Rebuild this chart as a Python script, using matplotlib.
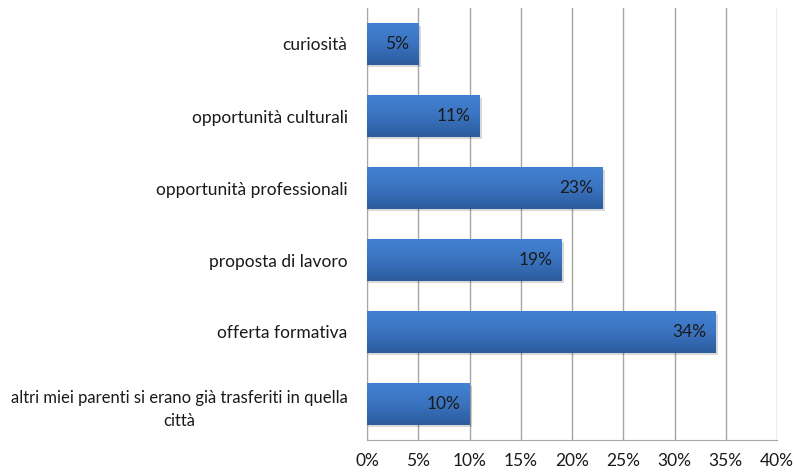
import matplotlib
matplotlib.use("Agg")
import matplotlib.pyplot as plt
import numpy as np
from matplotlib.colors import LinearSegmentedColormap
from matplotlib.ticker import FuncFormatter

categories = [
    "curiosità",
    "opportunità culturali",
    "opportunità professionali",
    "proposta di lavoro",
    "offerta formativa",
    "altri miei parenti si erano già trasferiti in quella\ncittà",
]
values = [5, 11, 23, 19, 34, 10]
xticks = [0, 5, 10, 15, 20, 25, 30, 35, 40]

plt.rcParams['font.family'] = ['Lato', 'DejaVu Sans']

fig = plt.figure(figsize=(7.95, 4.72), dpi=100)
ax = fig.add_axes([367/795, 1-440/472, (777-367)/795, (440-8)/472])

y = np.arange(len(categories))
bars = ax.barh(y, values, height=0.57, color="#3569b5", zorder=3)

cmap = LinearSegmentedColormap.from_list("g", ["#2b5c9c", "#3a73c0", "#4382d2"])
grad = np.linspace(0, 1, 256).reshape(-1, 1)
for b in bars:
    x0, y0 = b.get_x(), b.get_y()
    w, h = b.get_width(), b.get_height()
    # soft shadow
    ax.add_patch(plt.Rectangle((x0, y0 + 0.03), w + 0.25, h, color="#000000", alpha=0.15, zorder=2, lw=0))
    im = ax.imshow(grad, extent=(x0, x0 + w, y0, y0 + h), aspect="auto", cmap=cmap,
                   origin="upper", zorder=3.5, interpolation="bilinear")
    im.set_clip_path(b)

for yi, v in zip(y, values):
    ax.text(v - 0.9, yi, f"{v}%", ha="right", va="center", fontsize=12.5, color="#1a1a1a", zorder=5)

ax.set_xlim(0, 40)
ax.set_ylim(len(categories) - 0.5, -0.5)
ax.set_xticks(xticks)
ax.xaxis.set_major_formatter(FuncFormatter(lambda v, p: f"{int(v)}%"))
ax.set_yticks(y)
ax.set_yticklabels(categories)
ax.tick_params(axis="y", length=0, pad=14, labelsize=12.5, labelcolor="#1a1a1a")
ax.tick_params(axis="x", length=0, pad=9, labelsize=12.5, labelcolor="#1a1a1a")
for t in ax.get_yticklabels():
    t.set_multialignment("center")
    if "\n" in t.get_text():
        t.set_fontsize(12)
        t.set_linespacing(1.6)

ax.xaxis.grid(True, color="#a6a6a6", lw=1, zorder=0)
ax.set_axisbelow(True)
for s in ["top", "right"]:
    ax.spines[s].set_visible(False)
ax.spines["left"].set_color("#a6a6a6")
ax.spines["bottom"].set_color("#a6a6a6")

fig.savefig("out.png", dpi=100)
